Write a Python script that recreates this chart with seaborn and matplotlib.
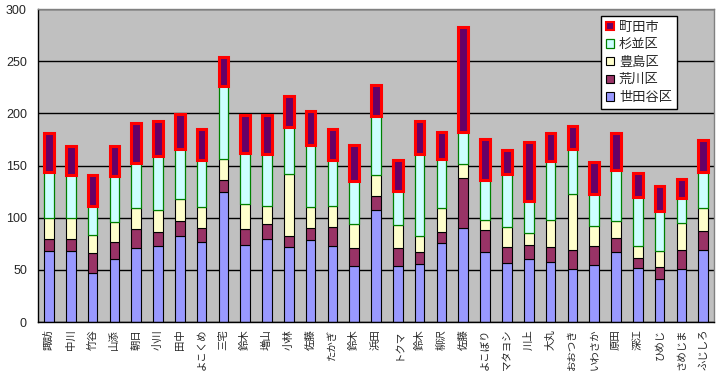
import matplotlib
matplotlib.use('Agg')
import matplotlib.pyplot as plt
import seaborn as sns
import numpy as np
from matplotlib.patches import Patch

names = ["諏訪", "中川", "竹谷", "山添", "朝日", "小川", "田中", "よこくめ", "三宅", "鈴木",
         "増山", "小林", "佐藤", "たかぎ", "鈴木", "浜田", "トクマ", "鈴木", "柳沢", "佐藤",
         "よこぼり", "マタヨシ", "川上", "大丸", "おおつき", "いわさか", "原田", "深江", "ひめじ",
         "さめじま", "ふじしろ"]

setagaya = [68, 68, 47, 60, 71, 73, 82, 77, 125, 74, 80, 72, 79, 73, 54, 107, 54, 56, 76, 90,
            67, 57, 60, 58, 51, 55, 67, 52, 41, 51, 69]
arakawa = [12, 12, 19, 17, 18, 13, 15, 13, 11, 15, 14, 10, 11, 18, 17, 14, 17, 11, 10, 48,
           21, 15, 14, 14, 18, 18, 14, 9, 12, 18, 18]
toshima = [20, 20, 17, 19, 20, 21, 21, 20, 20, 24, 17, 60, 20, 20, 23, 20, 22, 15, 23, 13,
           10, 19, 11, 26, 54, 19, 16, 12, 15, 26, 22]
suginami = [44, 41, 28, 44, 43, 52, 48, 45, 70, 49, 50, 45, 60, 44, 41, 56, 33, 79, 47, 31,
            38, 51, 31, 56, 43, 31, 49, 47, 38, 24, 35]
machida = [37, 28, 30, 29, 39, 34, 33, 30, 28, 36, 37, 30, 32, 30, 35, 30, 29, 32, 26, 101,
           39, 23, 57, 27, 22, 30, 35, 23, 24, 18, 30]

series = [
    ("世田谷区", setagaya, "#9999FF", "black", 0.8),
    ("荒川区", arakawa, "#993366", "black", 0.8),
    ("豊島区", toshima, "#FFFFCC", "black", 0.8),
    ("杉並区", suginami, "#CCFFFF", "#008000", 0.9),
    ("町田市", machida, "#660066", "#FF0000", 2.2),
]

sns.set_style("white")
plt.rcParams['font.family'] = ['Liberation Sans', 'Noto Sans CJK JP', 'DejaVu Sans']

fig = plt.figure(figsize=(7.2, 3.82), dpi=100)
ax = fig.add_axes([0.0528, 0.157, 0.939, 0.8194])
ax.set_facecolor("#C0C0C0")

idx = np.arange(len(names))
bottom = np.zeros(len(names))
for z, (label, vals, fc, ec, lw) in enumerate(series):
    sns.barplot(x=idx, y=vals, bottom=bottom.copy(), color=fc, saturation=1,
                edgecolor=ec, linewidth=lw, width=0.44, errorbar=None,
                zorder=3 + z, ax=ax)
    bottom += np.array(vals)

ax.set_axisbelow(True)
ax.set_ylim(0, 300)
ax.set_xlim(-0.5, len(names) - 0.5)
ax.set_yticks(range(0, 301, 50))
ax.yaxis.grid(True, color="black", linewidth=1.0)
ax.xaxis.grid(False)
ax.tick_params(axis='y', length=0, pad=8, labelsize=9)
ax.set_xticks(idx)
ax.set_xticklabels(names, rotation=90, fontsize=7.5, family=['Noto Sans CJK JP'], va='top')
ax.tick_params(axis='x', length=0, pad=5)
ax.set_xticks(idx[:-1] + 0.5, minor=True)
ax.tick_params(axis='x', which='minor', direction='in', length=3, color='black')
ax.set_xlabel("")
ax.set_ylabel("")

for s in ["top", "right"]:
    ax.spines[s].set_color("#808080")
for s in ["left", "bottom"]:
    ax.spines[s].set_color("black")
for s in ax.spines.values():
    s.set_linewidth(1.0)
    s.set_zorder(10)

handles = [Patch(facecolor=fc, edgecolor=ec, linewidth=min(lw, 1.5), label=label)
           for label, vals, fc, ec, lw in series][::-1]
leg = ax.legend(handles=handles, loc='upper left', bbox_to_anchor=(0.833, 0.978),
                borderaxespad=0, frameon=True, fancybox=False, framealpha=1,
                edgecolor='black', handlelength=0.6, handleheight=0.6,
                handletextpad=0.4, labelspacing=0.35, borderpad=0.35,
                prop={'family': ['Noto Sans CJK JP'], 'size': 9.5})
leg.get_frame().set_linewidth(1.0)
leg.set_zorder(20)

fig.savefig("out.png", dpi=100, facecolor="white")
